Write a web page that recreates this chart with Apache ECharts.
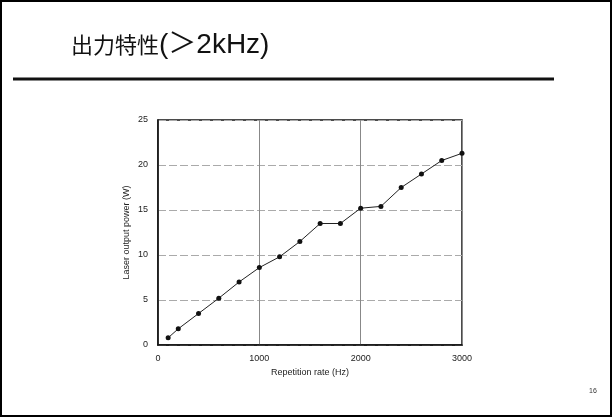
<!DOCTYPE html>
<html>
<head>
<meta charset="utf-8">
<script src="https://cdn.jsdelivr.net/npm/echarts@6/dist/echarts.min.js"></script>
<style>
html,body{margin:0;padding:0;background:#fff;}
#c{width:612px;height:417px;}
</style>
</head>
<body>
<div id="c"></div>
<script>
var titleText = '出力特性(＞2kHz)';
var xName = 'Repetition rate (Hz)';
var yName = 'Laser output power (W)';
var pageNo = '16';
var repRate = [100, 200, 400, 600, 800, 1000, 1200, 1400, 1600, 1800, 2000, 2200, 2400, 2600, 2800, 3000];
var power = [0.8, 1.8, 3.5, 5.2, 7.0, 8.6, 9.8, 11.5, 13.5, 13.5, 15.2, 15.4, 17.5, 19.0, 20.5, 21.3];
var xTicks = [0, 1000, 2000, 3000];
var yTicks = [0, 5, 10, 15, 20, 25];

var chart = echarts.init(document.getElementById('c'), null, {renderer: 'canvas'});
var pts = repRate.map(function (x, i) { return [x, power[i]]; });
chart.setOption({
  backgroundColor: '#fff',
  animation: false,
  title: {
    text: '{a|' + titleText.slice(0, 4) + '}{b|' + titleText.slice(4) + '}',
    left: 66, top: 24,
    textStyle: {
      fontWeight: 'normal',
      rich: {
        a: {fontFamily: '"Noto Sans CJK JP", sans-serif', fontSize: 22, fontWeight: 'normal', color: '#111', verticalAlign: 'middle', lineHeight: 32, padding: [0, 0, 1, 0]},
        b: {fontFamily: '"Liberation Sans", "Noto Sans CJK JP", sans-serif', fontSize: 28, fontWeight: 'normal', color: '#111', verticalAlign: 'middle', lineHeight: 32}
      }
    }
  },
  graphic: [
    {type: 'rect', shape: {x: 1, y: 1, width: 610, height: 415}, style: {fill: 'none', stroke: '#000', lineWidth: 2}, silent: true},
    {type: 'line', shape: {x1: 13, y1: 79, x2: 554, y2: 79}, style: {stroke: '#111', lineWidth: 3}, silent: true},
    {type: 'text', left: 589, top: 388, style: {text: pageNo, fontSize: 7, fill: '#333', fontFamily: 'Liberation Sans'}}
  ],
  grid: {left: 158, top: 120, width: 304, height: 225, show: true, borderColor: '#111', borderWidth: 1.5, backgroundColor: 'transparent'},
  xAxis: {
    type: 'value', min: xTicks[0], max: xTicks[xTicks.length - 1], interval: 1000,
    name: xName, nameLocation: 'middle', nameGap: 23,
    nameTextStyle: {fontSize: 9, color: '#222', fontFamily: 'Liberation Sans'},
    axisLine: {show: true, lineStyle: {color: '#111', width: 1.5}},
    axisTick: {show: false},
    axisLabel: {fontSize: 9, color: '#222', margin: 9, fontFamily: 'Liberation Sans', formatter: function (v) { return String(v); }},
    splitLine: {show: true, lineStyle: {color: '#888', width: 1}}
  },
  yAxis: {
    type: 'value', min: yTicks[0], max: yTicks[yTicks.length - 1], interval: 5,
    name: yName, nameLocation: 'middle', nameGap: 27, nameRotate: 90,
    nameTextStyle: {fontSize: 9, color: '#222', fontFamily: 'Liberation Sans'},
    axisLine: {show: true, lineStyle: {color: '#111', width: 1.5}},
    axisTick: {show: false},
    axisLabel: {fontSize: 9, color: '#222', margin: 10, fontFamily: 'Liberation Sans'},
    splitLine: {show: true, lineStyle: {color: '#aaa', width: 1, type: [8, 3]}}
  },
  series: [{
    type: 'line',
    data: pts,
    symbol: 'circle', symbolSize: 5,
    itemStyle: {color: '#111'},
    lineStyle: {color: '#222', width: 1}
  }]
});
</script>
</body>
</html>
